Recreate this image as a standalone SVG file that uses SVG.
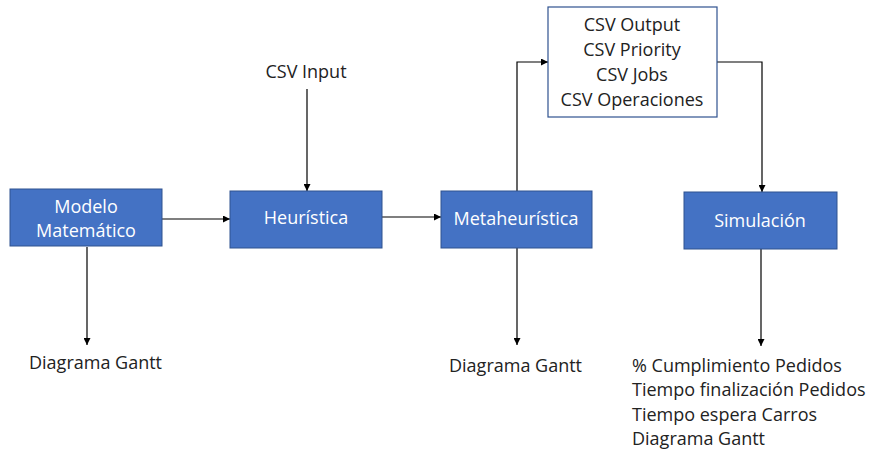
<svg xmlns="http://www.w3.org/2000/svg" width="869" height="450" viewBox="0 0 869 450">
  <style>
    .box { fill: #4472C4; stroke: #2F528F; stroke-width: 1; }
    .outbox { fill: #FFFFFF; stroke: #2F528F; stroke-width: 1.2; }
    .lbl { font-family: "Open Sans", "Liberation Sans", sans-serif; font-size: 18px; fill: #FFFFFF; text-anchor: middle; }
    .txt { font-family: "Open Sans", "Liberation Sans", sans-serif; font-size: 18px; fill: #222222; }
    .mid { text-anchor: middle; }
    .edge { fill: none; stroke: #000000; stroke-width: 1.2; marker-end: url(#arrow); }
  </style>
  <defs>
    <marker id="arrow" viewBox="0 0 10 10" refX="10" refY="5" markerWidth="7" markerHeight="7" markerUnits="userSpaceOnUse" orient="auto">
      <path d="M0,0 L10,5 L0,10 z" fill="#000000"/>
    </marker>
  </defs>
  <rect width="869" height="450" fill="#FFFFFF"/>

  <g id="connectors">
    <line class="edge" x1="162" y1="219" x2="230" y2="219"/>
    <line class="edge" x1="382" y1="217" x2="441" y2="217"/>
    <line class="edge" x1="307" y1="89" x2="307" y2="191"/>
    <polyline class="edge" points="517,191 517,62 548,62"/>
    <polyline class="edge" points="717,62 762,62 762,192"/>
    <line class="edge" x1="87" y1="247" x2="87" y2="345"/>
    <line class="edge" x1="517" y1="248" x2="517" y2="345"/>
    <line class="edge" x1="761" y1="249" x2="761" y2="346"/>
  </g>

  <g id="modelo">
    <rect class="box" x="10" y="189" width="152" height="57"/>
    <text class="lbl" x="86" y="213">Modelo</text>
    <text class="lbl" x="86" y="237">Matemático</text>
  </g>

  <g id="heuristica">
    <rect class="box" x="230" y="191" width="152" height="57"/>
    <text class="lbl" x="306" y="224">Heurística</text>
  </g>

  <g id="metaheuristica">
    <rect class="box" x="441" y="191" width="151" height="57"/>
    <text class="lbl" x="516" y="225">Metaheurística</text>
  </g>

  <g id="simulacion">
    <rect class="box" x="684" y="192" width="153" height="57"/>
    <text class="lbl" x="760" y="227">Simulación</text>
  </g>

  <g id="csv-outputs">
    <rect class="outbox" x="548" y="7" width="169" height="110"/>
    <text class="txt mid" x="632" y="31">CSV Output</text>
    <text class="txt mid" x="632" y="56">CSV Priority</text>
    <text class="txt mid" x="632" y="81">CSV Jobs</text>
    <text class="txt mid" x="632" y="106">CSV Operaciones</text>
  </g>

  <g id="csv-input">
    <text class="txt mid" x="306" y="78">CSV Input</text>
  </g>

  <g id="gantt-modelo">
    <text class="txt" x="29" y="369">Diagrama Gantt</text>
  </g>

  <g id="gantt-meta">
    <text class="txt" x="449" y="372">Diagrama Gantt</text>
  </g>

  <g id="resultados-simulacion">
    <text class="txt" x="632" y="372">% Cumplimiento Pedidos</text>
    <text class="txt" x="632" y="396">Tiempo finalización Pedidos</text>
    <text class="txt" x="632" y="421">Tiempo espera Carros</text>
    <text class="txt" x="632" y="445">Diagrama Gantt</text>
  </g>
</svg>
